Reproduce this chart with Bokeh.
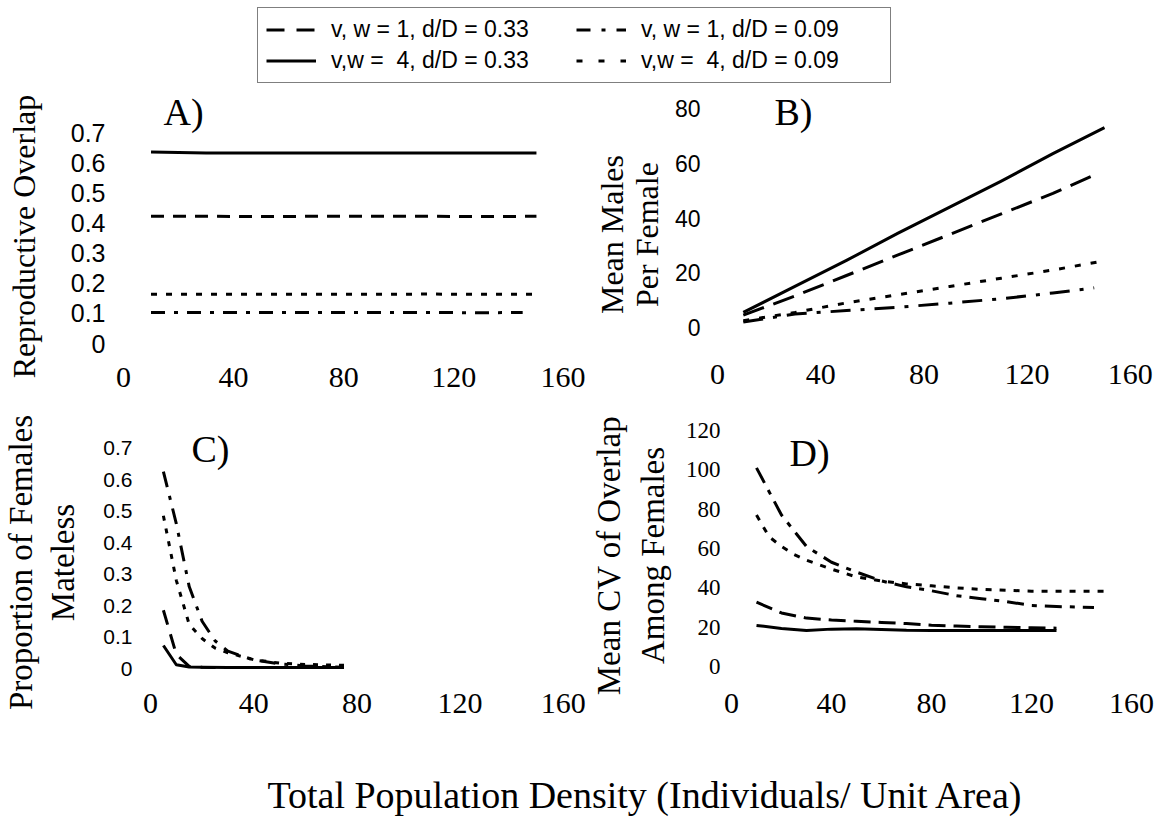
from bokeh.plotting import figure
from bokeh.models import Range1d, FixedTicker, Legend, LegendItem, Label
from bokeh.layouts import column, row
from bokeh.embed import file_html
from bokeh.resources import INLINE

# ---------------- data ----------------
SERIES = ["w1_33", "w1_09", "w4_33", "w4_09"]
SERIES_LABELS = {
    "w1_33": "v, w = 1, d/D = 0.33",
    "w1_09": "v, w = 1, d/D = 0.09",
    "w4_33": "v,w =  4, d/D = 0.33",
    "w4_09": "v,w =  4, d/D = 0.09",
}
X_TICKS = [0, 40, 80, 120, 160]

# Panel A: Reproductive overlap
A_x = {"w1_33": [10, 30, 50, 70, 90, 110, 130, 150],
       "w1_09": [10, 30, 50, 70, 90, 110, 130, 145],
       "w4_33": [10, 30, 50, 70, 90, 110, 130, 150],
       "w4_09": [10, 30, 50, 70, 90, 110, 130, 150]}
A_y = {"w1_33": [0.422, 0.422, 0.421, 0.422, 0.422, 0.422, 0.421, 0.422],
       "w1_09": [0.103, 0.103, 0.103, 0.103, 0.103, 0.103, 0.102, 0.103],
       "w4_33": [0.635, 0.632, 0.632, 0.632, 0.632, 0.632, 0.632, 0.632],
       "w4_09": [0.163, 0.163, 0.163, 0.163, 0.163, 0.164, 0.163, 0.163]}
A_yticks = [0, 0.1, 0.2, 0.3, 0.4, 0.5, 0.6, 0.7]
A_ylabels = ["0", "0.1", "0.2", "0.3", "0.4", "0.5", "0.6", "0.7"]
A_title = "Reproductive Overlap"

# Panel B: Mean males per female
B_x = {"w1_33": [10, 30, 50, 70, 90, 110, 130, 148],
       "w1_09": [10, 30, 50, 70, 90, 110, 130, 146],
       "w4_33": [10, 30, 50, 70, 90, 110, 130, 150],
       "w4_09": [10, 30, 50, 70, 90, 110, 130, 148]}
B_y = {"w1_33": [4.5, 11.5, 19, 26.5, 34, 41.5, 49, 56.5],
       "w1_09": [2, 4.9, 6.2, 7.4, 8.9, 10.5, 12.6, 14.5],
       "w4_33": [5.5, 15, 24.5, 34.5, 44, 53.5, 63.5, 73],
       "w4_09": [2.5, 5.5, 9, 12, 15, 18, 21, 24]}
B_yticks = [0, 20, 40, 60, 80]
B_ylabels = ["0", "20", "40", "60", "80"]
B_title = "Mean Males\nPer Female"

# Panel C: Proportion of females mateless
C_x = {"w1_33": [5, 10, 15, 20, 30, 40, 50, 60, 75],
       "w1_09": [5, 10, 15, 20, 25, 30, 40, 50, 60, 75],
       "w4_33": [5, 10, 15, 20, 30, 40, 50, 60, 75],
       "w4_09": [5, 10, 15, 20, 25, 30, 40, 50, 60, 75]}
C_y = {"w1_33": [0.185, 0.045, 0.007, 0.004, 0.003, 0.003, 0.003, 0.003, 0.003],
       "w1_09": [0.625, 0.46, 0.26, 0.15, 0.088, 0.055, 0.027, 0.015, 0.008, 0.004],
       "w4_33": [0.073, 0.012, 0.005, 0.004, 0.003, 0.003, 0.003, 0.003, 0.003],
       "w4_09": [0.485, 0.28, 0.14, 0.095, 0.065, 0.05, 0.028, 0.017, 0.013, 0.01]}
C_yticks = [0, 0.1, 0.2, 0.3, 0.4, 0.5, 0.6, 0.7]
C_ylabels = ["0", "0.1", "0.2", "0.3", "0.4", "0.5", "0.6", "0.7"]
C_title = "Proportion of Females\nMateless"

# Panel D: Mean CV of overlap among females
D_x = {"w1_33": [10, 20, 30, 40, 50, 60, 70, 80, 90, 100, 110, 120, 130],
       "w1_09": [10, 20, 30, 40, 50, 60, 70, 80, 90, 100, 110, 120, 130, 145],
       "w4_33": [10, 20, 30, 40, 50, 60, 70, 80, 90, 100, 110, 120, 130],
       "w4_09": [10, 15, 20, 25, 30, 40, 50, 60, 70, 80, 90, 100, 120, 150]}
D_y = {"w1_33": [32.7, 27.2, 24.6, 23.6, 23, 22.4, 21.8, 21, 20.6, 20.2, 19.9, 19.7, 19.5],
       "w1_09": [101, 77, 61, 53, 48, 43.5, 40.5, 38.5, 36, 34.5, 33, 31, 30.5, 30],
       "w4_33": [20.9, 19.3, 18.3, 19, 19.2, 18.8, 18.4, 18.3, 18.3, 18.3, 18.3, 18.3, 18.3],
       "w4_09": [77, 66, 61, 57, 54, 49.5, 45.5, 43.5, 42, 41, 40, 39.2, 38.3, 38.2]}
D_yticks = [0, 20, 40, 60, 80, 100, 120]
D_ylabels = ["0", "20", "40", "60", "80", "100", "120"]
D_title = "Mean CV of Overlap\nAmong Females"

TITLE = "Total Population Density (Individuals/ Unit Area)"

# ---------------- styles / geometry ----------------
SERIF = "Liberation Serif"
SANS = "Liberation Sans"
NARROW = "Liberation Sans Narrow"

DASHES = {
    "A": {"w1_33": "13 9", "w1_09": "14 9 4 9", "w4_33": "solid", "w4_09": "6 9"},
    "B": {"w1_33": "22 10", "w1_09": "20 10 4 10", "w4_33": "solid", "w4_09": "6 10"},
    "C": {"w1_33": "15 10", "w1_09": "16 9 4 9", "w4_33": "solid", "w4_09": "5 8"},
    "D": {"w1_33": "17 8", "w1_09": "17 8 5 8", "w4_33": "solid", "w4_09": "6 8"},
    "L": {"w1_33": "18 12", "w1_09": "14 11 4 11", "w4_33": "solid", "w4_09": "6 16"},
}

# page geometry: figure box (fx, fy, fw, fh), frame box (l, r, t, b),
# pixel position of x=0 / y=0 and pixels per data unit
GEOM = {
    "A": dict(fx=60, fy=90, fw=525, fh=318, frame=(123, 569, 93, 358),
              x0=123, sx=2.753, y0=343, sy=301.4),
    "B": dict(fx=667, fy=90, fw=487, fh=310, frame=(715, 1144, 93, 356),
              x0=715, sx=2.58, y0=327, sy=2.7375),
    "C": dict(fx=95, fy=408, fw=490, fh=332, frame=(148, 574, 412, 688),
              x0=148, sx=2.58, y0=668, sy=315.0),
    "D": dict(fx=671, fy=400, fw=483, fh=340, frame=(727, 1148, 412, 688),
              x0=727, sx=2.50, y0=666, sy=1.967),
}
# axis-title strips left of each panel: figure box, frame box (l, r, t, b),
# font size and line height of the rotated title (centred on the strip frame)
STRIP = {
    "A": dict(box=(0, 90, 60, 318), frame=(41, 60, 90, 376), size="32px", lh=1.2),
    "B": dict(box=(585, 90, 82, 310), frame=(662, 667, 90, 372), size="32px", lh=0.97),
    "C": dict(box=(0, 408, 95, 332), frame=(78, 95, 408, 708), size="33px", lh=1.15),
    "D": dict(box=(585, 400, 86, 340), frame=(666, 671, 400, 686), size="33px", lh=1.21),
}


def px2data(g, px, py):
    return (px - g["x0"]) / g["sx"], (g["y0"] - py) / g["sy"]


def bare_figure(w, h):
    f = figure(width=w, height=h, x_range=Range1d(0, w), y_range=Range1d(0, h),
               min_border=0, output_backend="svg", toolbar_location=None,
               x_axis_location=None, y_axis_location=None)
    f.outline_line_color = None
    f.xgrid.visible = False
    f.ygrid.visible = False
    return f


def quiet_axis(ax):
    ax.axis_line_color = None
    ax.major_tick_line_color = None
    ax.minor_tick_line_color = None
    ax.major_tick_out = 0
    ax.major_tick_in = 0
    ax.minor_tick_out = 0
    ax.minor_tick_in = 0
    ax.major_label_text_color = "black"


def title_strip(key, text):
    s = STRIP[key]
    fx, fy, fw, fh = s["box"]
    l, r, t, b = s["frame"]
    f = figure(frame_width=r - l, frame_height=b - t,
               x_range=Range1d(0, 1), y_range=Range1d(0, 1),
               min_border_left=l - fx, min_border_right=fx + fw - r,
               min_border_top=t - fy, min_border_bottom=fy + fh - b,
               output_backend="svg", toolbar_location=None, x_axis_location=None)
    f.outline_line_color = None
    f.xgrid.visible = False
    f.ygrid.visible = False
    ay = f.yaxis[0]
    quiet_axis(ay)
    ay.ticker = FixedTicker(ticks=[])
    ay.major_label_standoff = 0
    ay.axis_label = text
    ay.axis_label_standoff = 0
    ay.axis_label_text_font = SERIF
    ay.axis_label_text_font_size = s["size"]
    ay.axis_label_text_font_style = "normal"
    ay.axis_label_text_color = "black"
    ay.axis_label_text_line_height = s["lh"]
    return f


def make_panel(key, xs, ys, yticks, ylabels, ytick_font, ytick_size, ytick_standoff,
               letter_px, xtick_standoff):
    g = GEOM[key]
    l, r, t, b = g["frame"]
    x_lo, y_hi = px2data(g, l, t)
    x_hi, y_lo = px2data(g, r, b)
    p = figure(frame_width=r - l, frame_height=b - t,
               x_range=Range1d(x_lo, x_hi), y_range=Range1d(y_lo, y_hi),
               min_border_left=l - g["fx"], min_border_right=g["fx"] + g["fw"] - r,
               min_border_top=t - g["fy"], min_border_bottom=g["fy"] + g["fh"] - b,
               output_backend="svg", toolbar_location=None)
    p.outline_line_color = None
    p.xgrid.visible = False
    p.ygrid.visible = False
    for s in SERIES:
        p.line(xs[s], ys[s], line_color="black", line_width=3,
               line_dash=DASHES[key][s], line_join="round")
    quiet_axis(p.xaxis[0])
    quiet_axis(p.yaxis[0])
    ax = p.xaxis[0]
    ax.ticker = FixedTicker(ticks=X_TICKS)
    ax.major_label_text_font = NARROW
    ax.major_label_text_font_size = "30px"
    ax.major_label_standoff = xtick_standoff
    ay = p.yaxis[0]
    ay.ticker = FixedTicker(ticks=yticks)
    ay.major_label_overrides = {tk: lb for tk, lb in zip(yticks, ylabels)}
    ay.major_label_text_font = ytick_font
    ay.major_label_text_font_size = ytick_size
    ay.major_label_standoff = ytick_standoff
    lx, ly = px2data(g, *letter_px)
    p.add_layout(Label(x=lx, y=ly, text=key + ")", text_font=SERIF,
                       text_font_size="38px", text_baseline="middle",
                       text_color="black"))
    return p


pA = make_panel("A", A_x, A_y, A_yticks, A_ylabels, SANS, "25px", 18, (163, 111), 9)
pB = make_panel("B", B_x, B_y, B_yticks, B_ylabels, SANS, "23px", 17, (772, 111), 8)
pC = make_panel("C", C_x, C_y, C_yticks, C_ylabels, SANS, "21px", 18, (189, 448), 5)
pD = make_panel("D", D_x, D_y, D_yticks, D_ylabels, NARROW, "23px", 11, (785, 452), 5)

# ---------------- legend strip ----------------
lg = bare_figure(1154, 90)
items = []
for s in ["w1_33", "w4_33", "w1_09", "w4_09"]:
    r = lg.line(x=[float("nan")], y=[float("nan")], line_color="black", line_width=3,
                line_dash=DASHES["L"][s])
    items.append(LegendItem(label=SERIES_LABELS[s], renderers=[r]))
leg = Legend(items=items, ncols=2, location=(257, 7),
             border_line_color="black", border_line_width=1.5,
             label_text_font=SANS, label_text_font_size="23px", label_text_color="black",
             glyph_width=50, glyph_height=27, label_height=27, label_width=241,
             label_standoff=15, spacing=4, padding=8, margin=0)
lg.add_layout(leg)

# ---------------- bottom title strip ----------------
bt = bare_figure(1154, 81)
bt.add_layout(Label(x=645, y=27, text=TITLE, text_align="center", text_baseline="middle",
                    text_font=SERIF, text_font_size="38px", text_color="black"))

left_col = column(row(title_strip("A", A_title), pA), row(title_strip("C", C_title), pC))
right_col = column(row(title_strip("B", B_title), pB), row(title_strip("D", D_title), pD))
layout = column(lg, row(left_col, right_col), bt)
open("out.html", "w").write(file_html(layout, INLINE))
